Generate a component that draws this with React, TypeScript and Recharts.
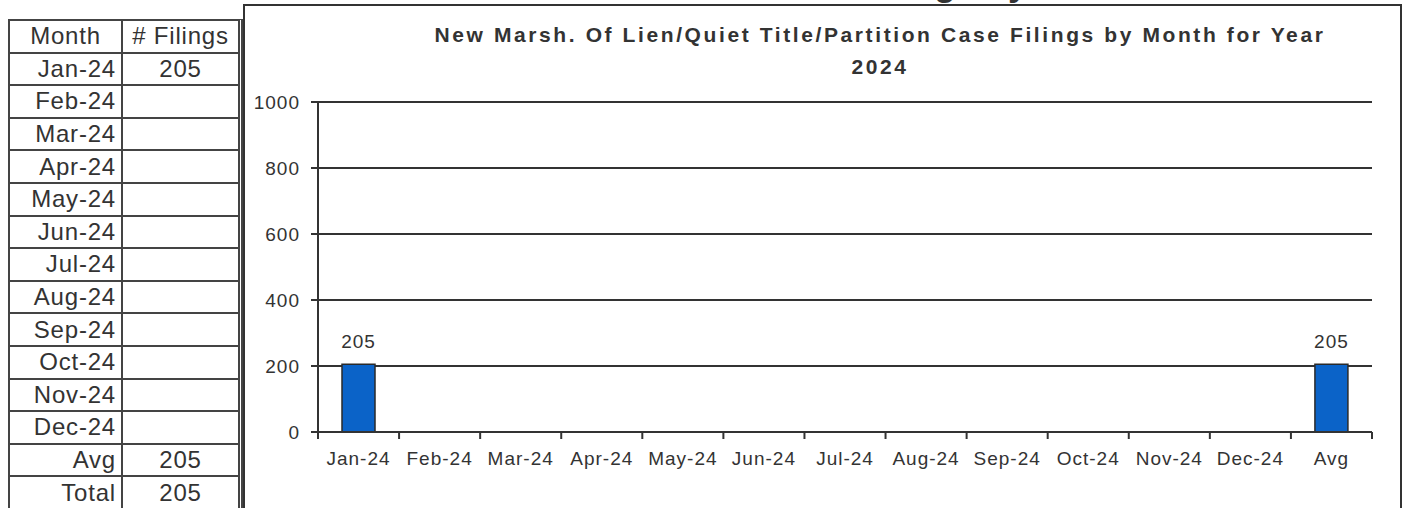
import React from 'react';
import { BarChart, Bar, XAxis, YAxis, CartesianGrid, LabelList } from 'recharts';

// chart categories and values
const categories = ['Jan-24', 'Feb-24', 'Mar-24', 'Apr-24', 'May-24', 'Jun-24', 'Jul-24', 'Aug-24', 'Sep-24', 'Oct-24', 'Nov-24', 'Dec-24', 'Avg'];
const filings: (number | null)[] = [205, null, null, null, null, null, null, null, null, null, null, null, 205];
const yTicks = [0, 200, 400, 600, 800, 1000];

// side table
const tableMonths = ['Jan-24', 'Feb-24', 'Mar-24', 'Apr-24', 'May-24', 'Jun-24', 'Jul-24', 'Aug-24', 'Sep-24', 'Oct-24', 'Nov-24', 'Dec-24'];
const tableFilings = ['205', '', '', '', '', '', '', '', '', '', '', ''];
const avgFilings = '205';
const totalFilings = '205';

const FONT = '"Liberation Sans", Arial, sans-serif';
const INK = '#333';

const data = categories.map((c, i) => ({ month: c, value: filings[i] }));

const XTick = (props: any) => {
    const { x, y, payload, index, visibleTicksCount } = props;
    const off = payload.offset || 0;
    const last = index === visibleTicksCount - 1;
    return (
        <g>
            <line x1={x - off} x2={x - off} y1={y} y2={y + 7} stroke={INK} strokeWidth={2} />
            {last && <line x1={x + off} x2={x + off} y1={y} y2={y + 7} stroke={INK} strokeWidth={2} />}
            <text x={x} y={y + 20} dy="0.71em" textAnchor="middle" fill={INK} fontSize={19} letterSpacing={1} fontFamily={FONT}>
                {payload.value}
            </text>
        </g>
    );
};

const cell = (extra: React.CSSProperties): React.CSSProperties => ({
    height: 32.6,
    boxSizing: 'border-box',
    borderBottom: `2px solid #444`,
    display: 'flex',
    alignItems: 'center',
    fontSize: 24,
    letterSpacing: 0.8,
    color: INK,
    ...extra,
});

const SideTable = () => {
    const rows: [string, string][] = [
        ['Month', '# Filings'],
        ...tableMonths.map((m, i) => [m, tableFilings[i]] as [string, string]),
        ['Avg', avgFilings],
        ['Total', totalFilings],
    ];
    return (
        <div style={{ position: 'absolute', left: 8, top: 19, width: 235, borderTop: '2px solid #444', borderLeft: '2px solid #444', borderRight: '5px double #444', boxSizing: 'border-box' }}>
            {rows.map(([m, v], i) => (
                <div key={i} style={{ display: 'flex' }}>
                    <div style={cell({ width: 113, borderRight: '2px solid #444', justifyContent: i === 0 ? 'center' : 'flex-end', paddingRight: i === 0 ? 0 : 5 })}>{m}</div>
                    <div style={cell({ flex: 1, justifyContent: 'center' })}>{v}</div>
                </div>
            ))}
        </div>
    );
};

export default function App() {
    return (
        <div style={{ position: 'fixed', left: 0, top: 0, width: 1405, height: 508, overflow: 'hidden', background: '#fff', fontFamily: FONT }}>
            {/* page heading, mostly cropped off the top edge like the scan */}
            <div style={{ position: 'absolute', right: 1405 - 1146, top: -35.5, whiteSpace: 'nowrap', fontSize: 36, lineHeight: '36px', fontWeight: 'bold', color: INK }}>
                Case Filings by Month
            </div>
            <SideTable />
            <div style={{ position: 'absolute', left: 243, top: 4, width: 1159, height: 540, border: `2px solid ${INK}`, background: '#fff', boxSizing: 'border-box' }} />
            <div style={{ position: 'absolute', left: 380, top: 19, width: 1000, textAlign: 'center', fontSize: 21, lineHeight: '32px', fontWeight: 'bold', letterSpacing: 2.6, color: INK }}>
                New Marsh. Of Lien/Quiet Title/Partition Case Filings by Month for Year
                <br />
                2024
            </div>
            <div style={{ position: 'absolute', left: 244, top: 0 }}>
                <BarChart width={1160} height={508} data={data} margin={{ top: 102, right: 32, left: 10, bottom: 36 }} barCategoryGap="0%">
                    <CartesianGrid vertical={false} stroke={INK} strokeWidth={2} />
                    <XAxis dataKey="month" tick={<XTick />} tickLine={false} tickSize={0} tickMargin={0} height={40} axisLine={{ stroke: INK, strokeWidth: 2 }} interval={0} />
                    <YAxis
                        domain={[0, 1000]}
                        ticks={yTicks}
                        width={64}
                        tickSize={7}
                        tickMargin={11}
                        tickLine={{ stroke: INK, strokeWidth: 2 }}
                        axisLine={{ stroke: INK, strokeWidth: 2 }}
                        tick={{ fill: INK, fontSize: 19, letterSpacing: 1, fontFamily: FONT }}
                    />
                    <YAxis yAxisId="frame" orientation="right" domain={[0, 1000]} width={0} tick={false} tickLine={false} axisLine={{ stroke: INK, strokeWidth: 2 }} />
                    <Bar dataKey="value" barSize={33} fill="#0B63C8" stroke="#2a2a2a" strokeWidth={1.5} isAnimationActive={false}>
                        <LabelList dataKey="value" position="top" offset={16} fill={INK} fontSize={19} letterSpacing={1} fontFamily={FONT} />
                    </Bar>
                </BarChart>
            </div>
        </div>
    );
}
